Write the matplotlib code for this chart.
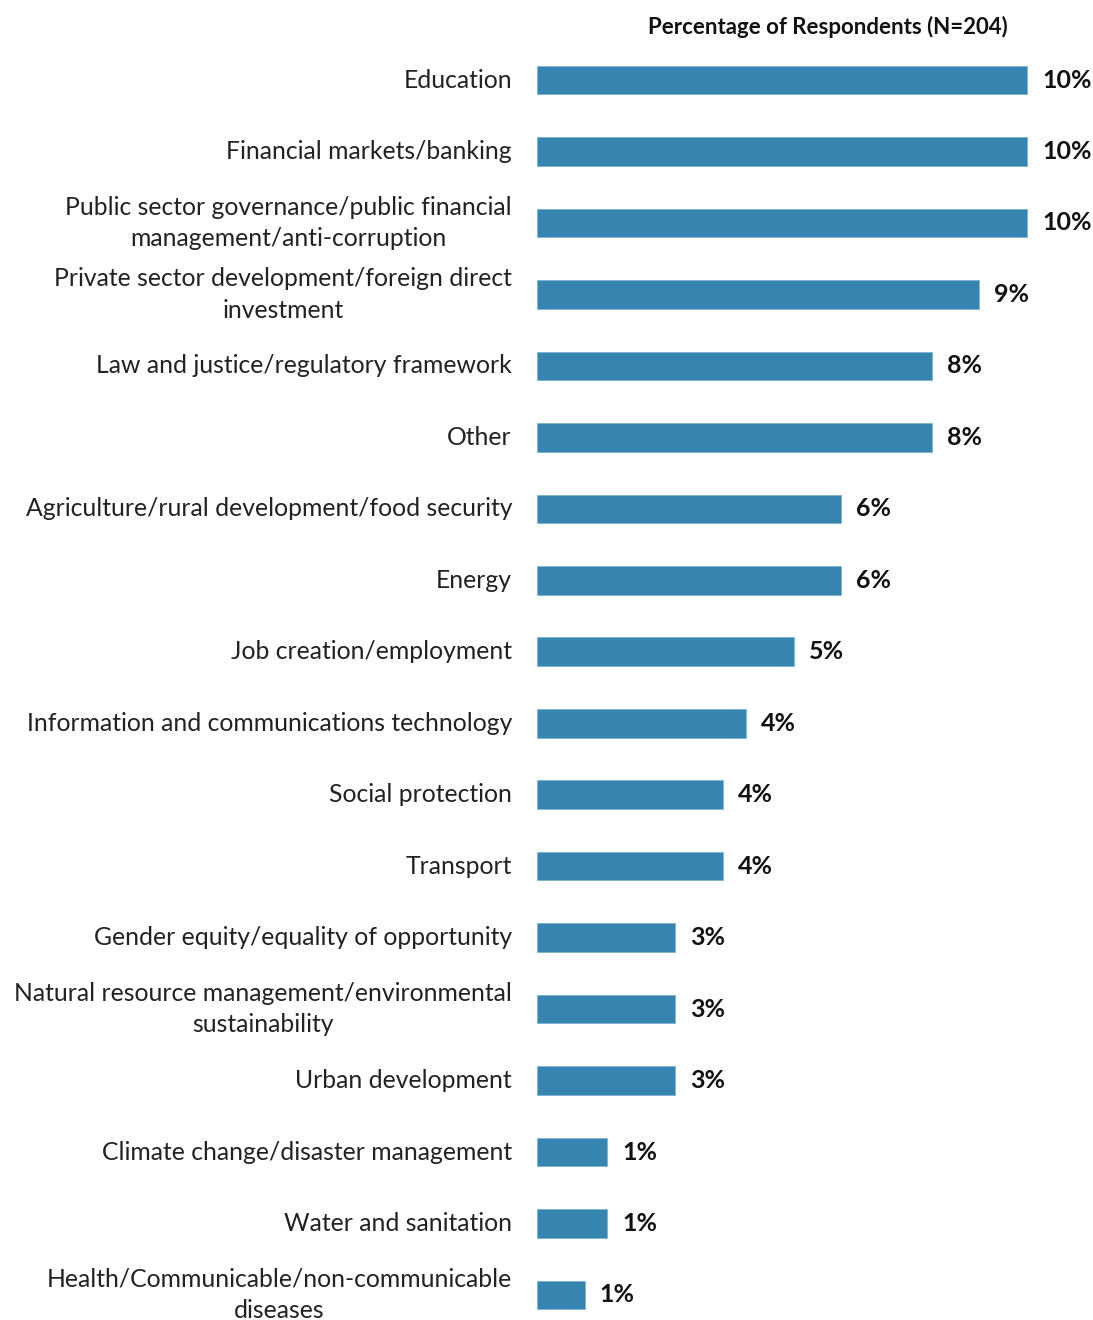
import matplotlib
matplotlib.use("Agg")
import matplotlib.pyplot as plt

categories = [
    "Education",
    "Financial markets/banking",
    "Public sector governance/public financial\nmanagement/anti-corruption",
    "Private sector development/foreign direct\ninvestment",
    "Law and justice/regulatory framework",
    "Other",
    "Agriculture/rural development/food security",
    "Energy",
    "Job creation/employment",
    "Information and communications technology",
    "Social protection",
    "Transport",
    "Gender equity/equality of opportunity",
    "Natural resource management/environmental\nsustainability",
    "Urban development",
    "Climate change/disaster management",
    "Water and sanitation",
    "Health/Communicable/non-communicable\ndiseases",
]
values = [10.3, 10.3, 10.3, 9.3, 8.3, 8.3, 6.4, 6.4, 5.4, 4.4,
          3.9, 3.9, 2.9, 2.9, 2.9, 1.47, 1.47, 1.0]
title = "Percentage of Respondents (N=204)"

bar_color = "#3585b0"
font = "Lato"

W, H = 1093, 1320
fig = plt.figure(figsize=(W / 100, H / 100), dpi=100)
fig.patch.set_facecolor("white")

x0 = 537
ax = fig.add_axes([x0 / W, 0, 1 - x0 / W, 1])
px_per_pct = 490 / 10.3
ax.set_xlim(0, (W - x0) / px_per_pct)
row_px = (1295 - 80) / 17
ax.set_ylim((H - 80) / row_px, -80 / row_px)
ax.axis("off")

ys = list(range(len(categories)))
ax.barh(ys, values, height=0.40, color=bar_color, edgecolor="#7fb3d0", linewidth=0.6)

for y, v, lab in zip(ys, values, categories):
    ax.text(v + 15 / px_per_pct, y, f"{v:.0f}%", ha="left", va="center",
            fontsize=18, fontweight="bold", family=font, color="#111111")
    ax.text(-25 / px_per_pct, y, lab, ha="right", va="center", multialignment="center",
            fontsize=17.8, family=font, color="#222222", linespacing=1.45,
            clip_on=False)

fig.text(828 / W, 1 - 27 / H, title, ha="center", va="center",
         fontsize=16, fontweight="bold", family=font, color="#111111")

fig.savefig("out.png", dpi=100, facecolor="white")
